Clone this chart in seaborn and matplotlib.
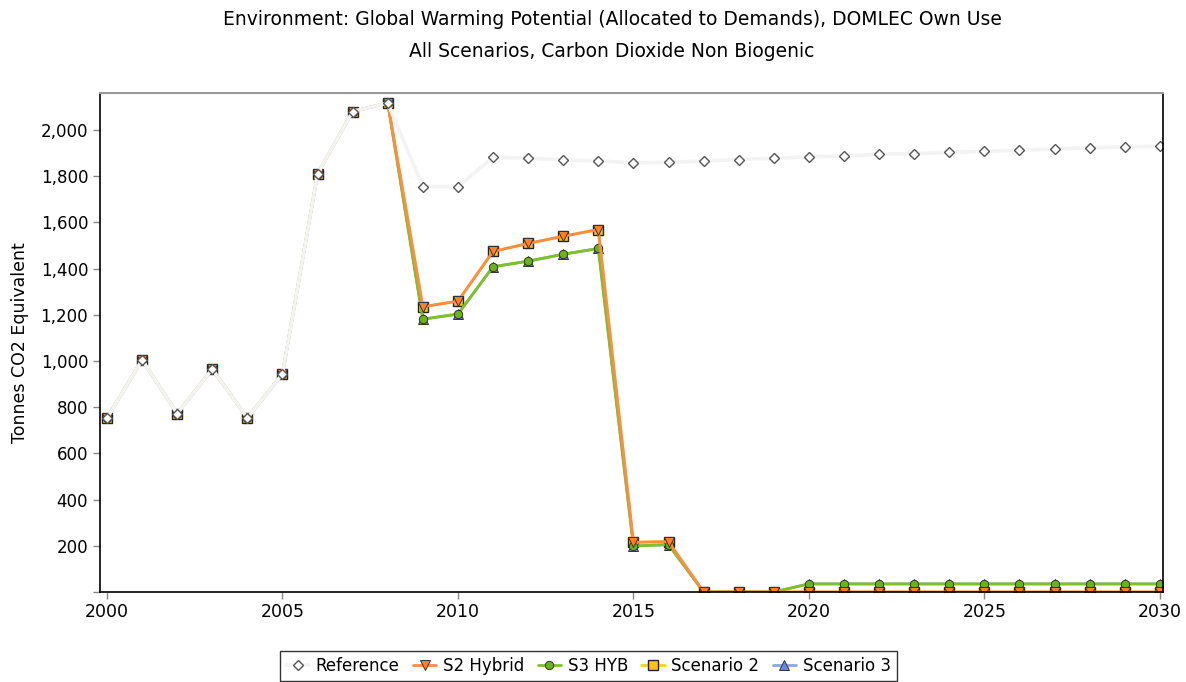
import matplotlib
matplotlib.use("Agg")
import matplotlib.pyplot as plt
from matplotlib.ticker import FuncFormatter, MultipleLocator
import seaborn as sns
import pandas as pd

years = [2000, 2001, 2002, 2003, 2004, 2005, 2006, 2007, 2008, 2009,
         2010, 2011, 2012, 2013, 2014, 2015, 2016, 2017, 2018, 2019,
         2020, 2021, 2022, 2023, 2024, 2025, 2026, 2027, 2028, 2029, 2030]

history = [753, 1005, 772, 965, 753, 944, 1810, 2080, 2117]

reference = history + [1755, 1755, 1882, 1878, 1870, 1866, 1858, 1860, 1866, 1872,
                       1877, 1884, 1887, 1895, 1898, 1903, 1907, 1913, 1917, 1923,
                       1927, 1930]
s2_hybrid = history + [1235, 1259, 1474, 1509, 1540, 1569, 215, 218, 0, 0,
                       0, 0, 0, 0, 0, 0, 0, 0, 0, 0, 0, 0]
s3_hyb = history + [1181, 1203, 1408, 1432, 1462, 1487, 199, 205, 0, 0,
                    0, 35, 35, 35, 35, 35, 35, 35, 35, 35, 35, 35]
scenario_2 = history + [1235, 1259, 1474, 1509, 1540, 1569, 215, 218, 0, 0,
                        0, 0, 0, 0, 0, 0, 0, 0, 0, 0, 0, 0]
scenario_3 = history + [1181, 1203, 1408, 1432, 1462, 1487, 199, 205, 0, 0,
                        0, 35, 35, 35, 35, 35, 35, 35, 35, 35, 35, 35]

series_names = ["Reference", "S2 Hybrid", "S3 HYB", "Scenario 2", "Scenario 3"]

df = pd.DataFrame({"Year": years, "Reference": reference, "S2 Hybrid": s2_hybrid,
                   "S3 HYB": s3_hyb, "Scenario 2": scenario_2, "Scenario 3": scenario_3})
long_df = df.melt(id_vars="Year", var_name="Series", value_name="Value")

styles = {
    "Reference":  dict(color="#f3f3f3", lw=2.6, marker="D", ms=5.5, mfc="white", mec="#555555", mew=1.0),
    "S2 Hybrid":  dict(color="#ff8c42", lw=2.0, marker="v", ms=7, mfc="#ff7f2a", mec="#333333", mew=0.7),
    "S3 HYB":     dict(color="#7cc322", lw=2.0, marker="o", ms=6, mfc="#6bb31a", mec="#333333", mew=0.7),
    "Scenario 2": dict(color="#ffd21f", lw=2.0, marker="s", ms=7, mfc="#ffc21a", mec="#222222", mew=1.0),
    "Scenario 3": dict(color="#8aa6e8", lw=2.0, marker="^", ms=7, mfc="#6a88d8", mec="#333333", mew=0.7),
}

sns.set_style("white")
plt.rcParams["font.family"] = ["DejaVu Sans"]
plt.rcParams["text.color"] = "black"
plt.rcParams["axes.labelcolor"] = "black"

fig = plt.figure(figsize=(11.86, 6.82), dpi=100)
ax = fig.add_axes([0.0843, 0.132, 0.8963, 0.7316])

handles = {}
for name in reversed(series_names):
    st = styles[name]
    sub = long_df[long_df["Series"] == name]
    sns.lineplot(data=sub, x="Year", y="Value", ax=ax, color=st["color"], linewidth=st["lw"],
                 marker=st["marker"], markersize=st["ms"], markerfacecolor=st["mfc"],
                 markeredgecolor=st["mec"], markeredgewidth=st["mew"], legend=False)
    handles[name] = ax.lines[-1]

ax.set_xlim(1999.8, 2030.09)
ax.set_ylim(0, 2160)
ax.xaxis.set_major_locator(MultipleLocator(5))
ax.xaxis.set_minor_locator(MultipleLocator(1))
ax.yaxis.set_major_locator(MultipleLocator(200))
ax.yaxis.set_major_formatter(FuncFormatter(lambda v, p: "" if v == 0 else f"{int(v):,}"))
ax.tick_params(axis="both", which="major", labelsize=12, colors="#888888", labelcolor="black",
               length=5, width=1, direction="out")
ax.tick_params(axis="x", which="major", labelsize=12.5, bottom=True, pad=3)
ax.tick_params(axis="x", which="minor", length=3, colors="#888888", direction="out")
ax.tick_params(axis="y", which="major", left=True)
ax.set_xlabel("")
ax.set_ylabel("Tonnes CO2 Equivalent", fontsize=12.5, labelpad=8)

for side in ["left", "bottom", "right"]:
    ax.spines[side].set_color("black")
    ax.spines[side].set_linewidth(1.2)
ax.spines["top"].set_color("#999999")
ax.spines["top"].set_linewidth(1.5)

fig.text(0.516, 0.972, "Environment: Global Warming Potential (Allocated to Demands), DOMLEC Own Use",
         ha="center", va="center", fontsize=13.5)
fig.text(0.516, 0.925, "All Scenarios, Carbon Dioxide Non Biogenic",
         ha="center", va="center", fontsize=13.5)

leg = fig.legend([handles[n] for n in series_names], series_names, loc="upper center",
                 bbox_to_anchor=(0.496, 0.057), ncol=5, fontsize=12, frameon=True,
                 fancybox=False, handlelength=1.4, handletextpad=0.4, columnspacing=0.8,
                 borderpad=0.35)
leg.get_frame().set_edgecolor("black")
leg.get_frame().set_linewidth(1.0)

fig.savefig("out.png", dpi=100)
